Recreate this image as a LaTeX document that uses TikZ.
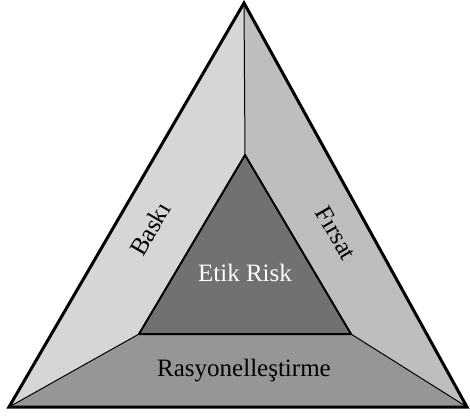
\documentclass[tikz,border=0pt]{standalone}
\usepackage{fontspec}
\setmainfont{Liberation Serif}
\definecolor{leftgray}{HTML}{D6D6D6}
\definecolor{rightgray}{HTML}{BEBEBE}
\definecolor{basegray}{HTML}{969696}
\definecolor{coregray}{HTML}{717171}
\begin{document}
\begin{tikzpicture}
[x=1pt, y=-1pt, sidetext/.style={font=\fontsize{25}{28}\selectfont, inner sep=1pt}]
\useasboundingbox (0,0) rectangle (470,416);
\coordinate (A) at (244,3);
\coordinate (B) at (9,407);
\coordinate (C) at (467,407);
\coordinate (a) at (245,155);
\coordinate (b) at (139,334);
\coordinate (c) at (351,334);
\fill [leftgray] (A) -- (a) -- (b) -- (B) -- cycle;
\fill [rightgray] (A) -- (C) -- (c) -- (a) -- cycle;
\fill [basegray] (B) -- (b) -- (c) -- (C) -- cycle;
\fill [coregray] (a) -- (b) -- (c) -- cycle;
\draw [line width=1pt] (A) -- (a);
\draw [line width=1pt] (B) -- (b);
\draw [line width=1pt] (C) -- (c);
\draw [line width=2pt, line join=round] (a) -- (b) -- (c) -- cycle;
\draw [line width=3pt, line join=miter] (A) -- (B) -- (C) -- cycle;
\node [sidetext, rotate=60] (baski) at (150,229) {Baskı};
\node [sidetext, rotate=-60] (firsat) at (336,233) {Fırsat};
\node [sidetext, text=white] (etik) at (245,273) {Etik Risk};
\node [sidetext] (rasyonel) at (244,371) {Rasyonelleştirme};
\end{tikzpicture}
\end{document}
